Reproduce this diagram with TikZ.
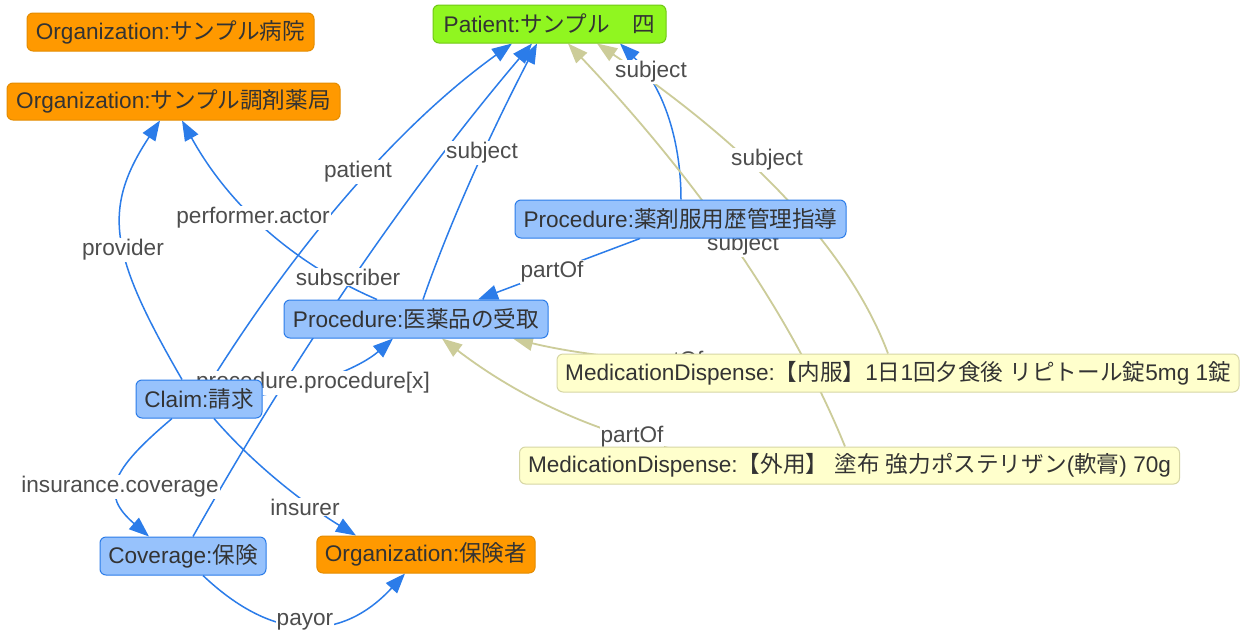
\documentclass[tikz,border=0pt]{standalone}
\usepackage{fontspec}
\setmainfont{Liberation Sans}
\newfontfamily\jpfont{Noto Sans CJK JP}
\newcommand{\J}[1]{{\jpfont #1}}
\usetikzlibrary{arrows.meta}
\pgfdeclarelayer{edgelayer}
\pgfdeclarelayer{labellayer}
\pgfsetlayers{edgelayer,labellayer,main}

\definecolor{eblue}{RGB}{43,124,233}
\definecolor{ekhaki}{RGB}{204,204,153}
\definecolor{nblue}{RGB}{151,194,252}
\definecolor{nbluedraw}{RGB}{43,124,233}
\definecolor{norange}{RGB}{255,153,0}
\definecolor{norangedraw}{RGB}{228,140,0}
\definecolor{ngreen}{RGB}{144,246,32}
\definecolor{ngreendraw}{RGB}{112,200,20}
\definecolor{nyellow}{RGB}{255,255,204}
\definecolor{nyellowdraw}{RGB}{214,214,165}
\definecolor{txt}{RGB}{51,51,51}
\definecolor{lbl}{RGB}{77,77,77}

\tikzset{
  box/.style={rounded corners=6pt, line width=1pt, inner xsep=8pt, inner ysep=0pt,
    minimum height=38pt, text=txt, font=\fontsize{22.6}{26}\selectfont},
  bluebox/.style={box, fill=nblue, draw=nbluedraw},
  orgbox/.style={box, fill=norange, draw=norangedraw},
  patbox/.style={box, fill=ngreen, draw=ngreendraw},
  medbox/.style={box, fill=nyellow, draw=nyellowdraw, font=\fontsize{22.6}{26}\selectfont},
  bedge/.style={draw=eblue, line width=1.5pt, -{Triangle[length=20pt,width=15pt]}},
  kedge/.style={draw=ekhaki, line width=1.8pt, -{Triangle[length=20pt,width=15pt]}},
  elabel/.style={fill=white, inner sep=1pt, text=lbl, font=\fontsize{22.6}{26}\selectfont}
}

\begin{document}
\begin{tikzpicture}[x=1pt,y=-1pt]
\useasboundingbox (0,0) rectangle (1242,635);
\begin{pgfonlayer}{edgelayer}
\fill[white] (0,0) rectangle (1242,635);
\end{pgfonlayer}

% nodes
\node[orgbox, minimum width=287pt] (org1) at (170.5,32) {Organization:\J{サンプル病院}};
\node[orgbox, minimum width=333pt, minimum height=37pt] (org2) at (173.5,101.5) {Organization:\J{サンプル調剤薬局}};
\node[patbox, minimum width=233pt] (patient) at (549.5,24) {Patient:\J{サンプル　四}};
\node[bluebox, minimum width=331pt] (proc1) at (680.5,219) {Procedure:\J{薬剤服用歴管理指導}};
\node[bluebox, minimum width=264pt] (proc2) at (416,319) {Procedure:\J{医薬品の受取}};
\node[bluebox, minimum width=126pt] (claim) at (199,399) {Claim:\J{請求}};
\node[medbox, minimum width=682pt] (md1) at (898,373) {MedicationDispense:\J{【内服】}1\J{日}1\J{回夕食後} \J{リピトール錠}5mg 1\J{錠}};
\node[medbox, minimum width=660pt, minimum height=37pt] (md2) at (849.5,465.5) {MedicationDispense:\J{【外用】} \J{塗布} \J{強力ポステリザン}(\J{軟膏}) 70g};
\node[bluebox, minimum width=166pt] (cov) at (183,556) {Coverage:\J{保険}};
\node[orgbox, minimum width=218pt, minimum height=37pt] (org3) at (426,554.5) {Organization:\J{保険者}};

% edges
\begin{pgfonlayer}{edgelayer}
\draw[bedge] ([xshift=-17pt]claim.north) .. controls (110,255) and (101,210) .. ([xshift=-13.5pt]org2.south);
\draw[bedge] ([xshift=-39pt]proc2.north) .. controls (292,263) and (228,204) .. ([xshift=8.5pt]org2.south);
\draw[bedge] ([xshift=13pt]claim.north) .. controls (303,235) and (403,122) .. ([xshift=-37.5pt]patient.south);
\draw[bedge] ([xshift=10pt]cov.north) .. controls (294,357) and (406,192) .. ([xshift=-17.5pt]patient.south);
\draw[bedge] ([xshift=7pt]proc2.north) .. controls (449,225) and (487,140) .. ([xshift=-12.5pt]patient.south);
\draw[bedge] ([xshift=0.5pt]proc1.north) .. controls (681,136) and (661,84) .. ([xshift=70.5pt]patient.south);
\draw[kedge] ([xshift=-10pt]md1.north) .. controls (850,252) and (753,149) .. ([xshift=47.5pt]patient.south);
\draw[kedge] ([xshift=-4.5pt]md2.north) .. controls (792,316) and (699,182) .. ([xshift=18.5pt]patient.south);
\draw[bedge] ([xshift=-40.5pt]proc1.south) -- ([xshift=62pt]proc2.north);
\draw[kedge] (md1.center) .. controls (725,370) and (596,359) .. ([xshift=97pt]proc2.south);
\draw[kedge] (md2.center) .. controls (695,470) and (559,428) .. ([xshift=26pt]proc2.south);
\draw[bedge] ([yshift=4pt]claim.east) .. controls (318,385) and (362,366) .. ([xshift=-23pt]proc2.south);
\draw[bedge] ([xshift=-27pt]claim.south) .. controls (110,471) and (100,494) .. ([xshift=-34pt]cov.north);
\draw[bedge] ([xshift=15pt]claim.south) .. controls (254,465) and (306,505) .. ([xshift=-70pt]org3.north);
\draw[bedge] ([xshift=20pt]cov.south) .. controls (274,643) and (342,642) .. ([xshift=-21pt]org3.south);
\end{pgfonlayer}

% edge labels
\begin{pgfonlayer}{labellayer}
\node[elabel] (lprov) at (123,250) {provider};
\node[elabel] (lperf) at (253,218) {performer.actor};
\node[elabel] (lpat) at (358,172) {patient};
\node[elabel] (lsubs) at (348,277) {subscriber};
\node[elabel] (lsubja) at (482,153) {subject};
\node[elabel] (lsubjb) at (651,72) {subject};
\node[elabel] (lsubjc) at (767,160) {subject};
\node[elabel] (lsubjd) at (743,245) {subject};
\node[elabel] (lparta) at (552,272) {partOf};
\node[elabel] (lpartb) at (672,362) {partOf};
\node[elabel] (lpartc) at (632,437) {partOf};
\node[elabel] (lproc) at (313,383) {procedure.procedure[x]};
\node[elabel] (lins) at (120,487) {insurance.coverage};
\node[elabel] (linsr) at (305,507) {insurer};
\node[elabel] (lpay) at (305,622) {payor};
\end{pgfonlayer}
\end{tikzpicture}
\end{document}
